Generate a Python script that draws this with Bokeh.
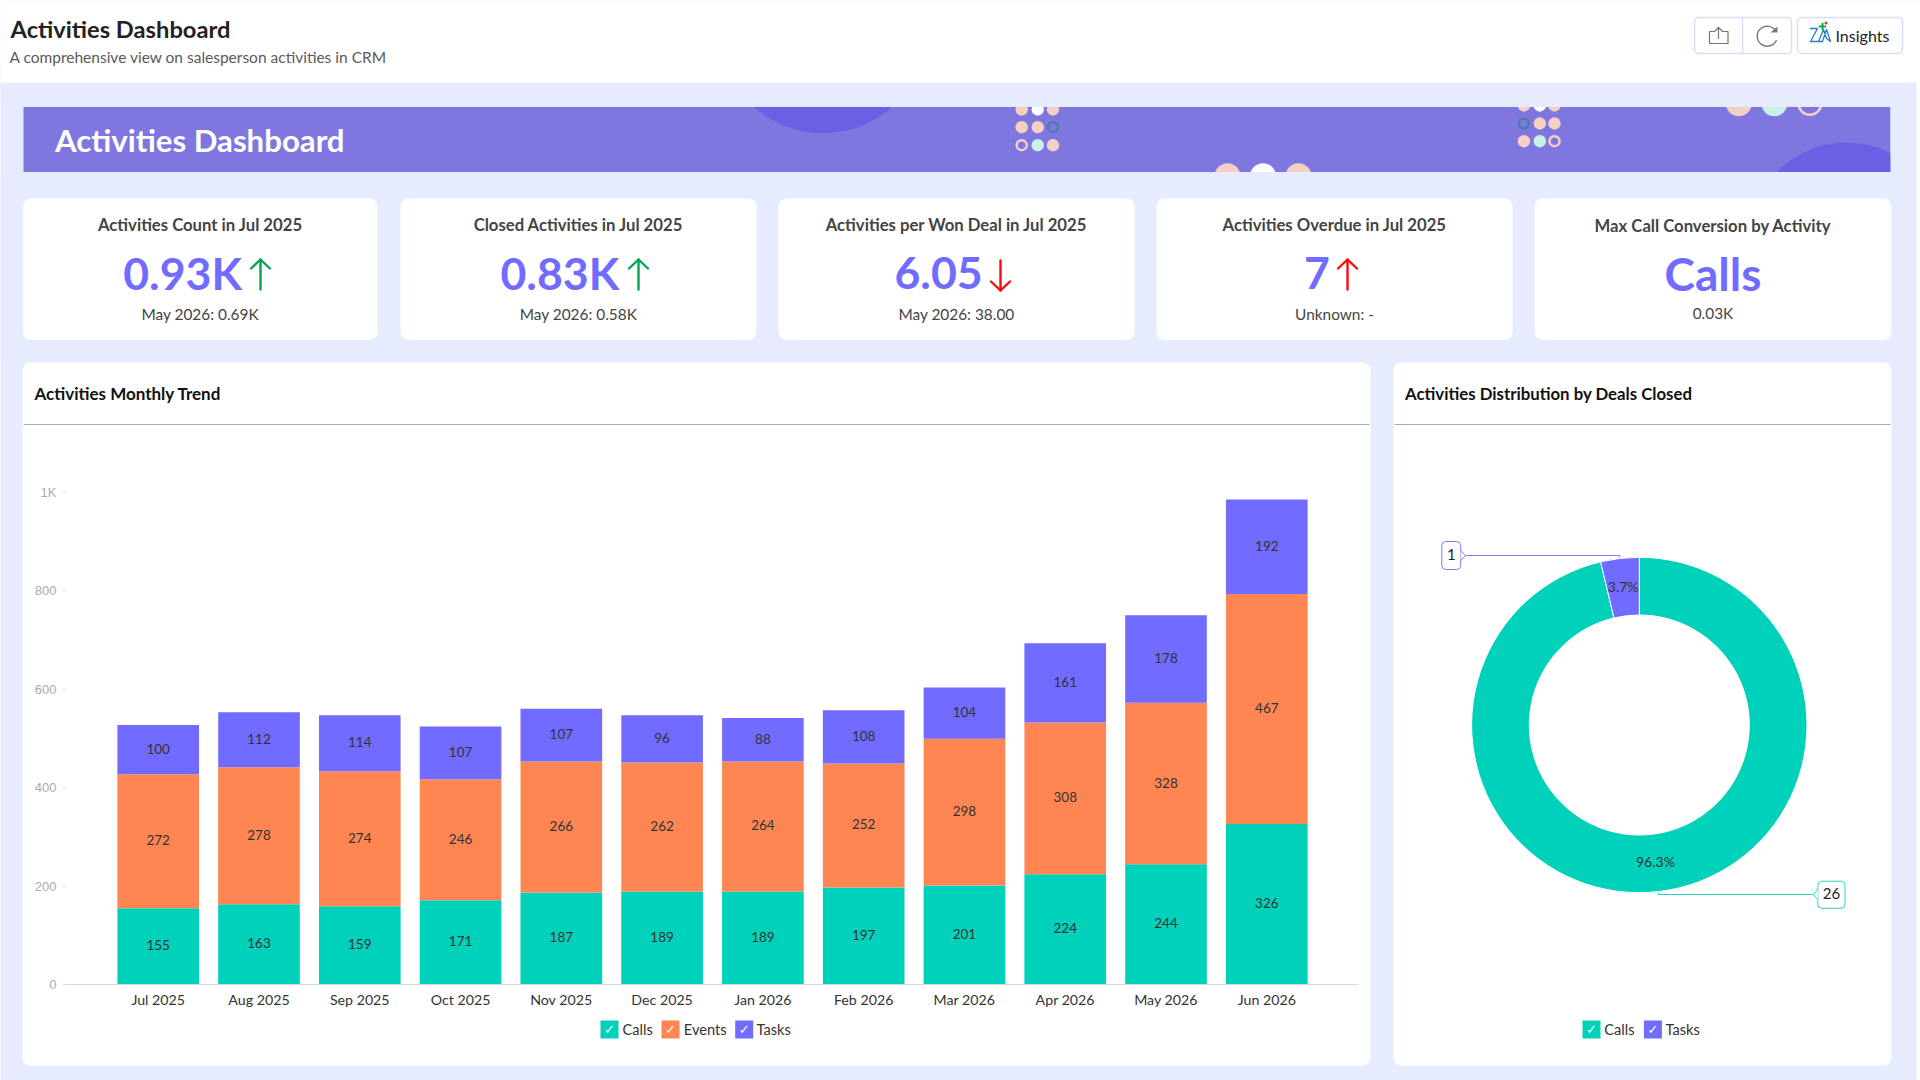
import math
import numpy as np
from bokeh.core.properties import value
from bokeh.embed import file_html
from bokeh.resources import INLINE
from bokeh.plotting import figure
from bokeh.layouts import column, row
from bokeh.models import ColumnDataSource, FactorRange, Range1d, FixedTicker

FONT = "Lato"
TEAL, ORANGE, PURPLE = "#00D1BA", "#FF8552", "#716BFF"
PAGE_BG = "#E6EBFE"

# ---------------- chart data ----------------
months = ["Jul 2025", "Aug 2025", "Sep 2025", "Oct 2025", "Nov 2025", "Dec 2025",
          "Jan 2026", "Feb 2026", "Mar 2026", "Apr 2026", "May 2026", "Jun 2026"]
calls = [155, 163, 159, 171, 187, 189, 189, 197, 201, 224, 244, 326]
events = [272, 278, 274, 246, 266, 262, 264, 252, 298, 308, 328, 467]
tasks = [100, 112, 114, 107, 107, 96, 88, 108, 104, 161, 178, 192]
y_ticks = [0, 200, 400, 600, 800, 1000]
y_tick_labels = {0: "0", 200: "200", 400: "400", 600: "600", 800: "800", 1000: "1K"}

donut_names = ["Calls", "Tasks"]
donut_values = [26, 1]

kpi_titles = ["Activities Count in Jul 2025", "Closed Activities in Jul 2025",
              "Activities per Won Deal in Jul 2025", "Activities Overdue in Jul 2025",
              "Max Call Conversion by Activity"]
kpi_values = ["0.93K", "0.83K", "6.05", "7", "Calls"]
kpi_subs = ["May 2026: 0.69K", "May 2026: 0.58K", "May 2026: 38.00", "Unknown: -", "0.03K"]

# ---------------- page chrome (pixel coordinates) ----------------
bg = figure(width=1920, height=1080, x_range=Range1d(0, 1920), y_range=Range1d(1080, 0),
            output_backend="svg", toolbar_location=None, min_border=0,
            outline_line_color=None, border_fill_color=PAGE_BG, background_fill_color=PAGE_BG)
bg.axis.visible = False
bg.grid.visible = False


def box(l, r, t, b, fill, radius=0, line=None, lw=1):
    bg.quad(left=l, right=r, top=t, bottom=b, fill_color=fill, line_color=line, line_width=lw,
            border_radius=radius)


def txt(x, y, s, size, color, style="normal", align="center", font=FONT):
    bg.text(x=[x], y=[y], text=[s], text_font=value(font), text_font_size=f"{size}px", text_color=color,
            text_font_style=style, text_align=align, text_baseline="middle")


def poly(xs, ys, color, lw=1.0):
    bg.line(xs, ys, line_color=color, line_width=lw, line_cap="round", line_join="round")


def legend_item(left, label_x, name, color):
    box(left, left + 18, 1020, 1038, color)
    txt(left + 9, 1029, "\u2713", 13, "white", font="DejaVu Sans")
    txt(label_x, 1028.5, name, 14.6, "#333333", align="left")


# banner
box(23, 1890, 106.5, 171.5, "#7F77E0")
DARK, PINK, MINT, RING = "#6B60E4", "#F5CFC2", "#C9F1E7", "#4C7BAA"
# the dark disc at the top only shows its lower part, so draw just that part
theta = np.linspace(0, np.pi, 121)
disc_x, disc_y = 822.6 + 104 * np.cos(theta), 28.7 + 104 * np.sin(theta)
keep = disc_y >= 100
bg.patch(disc_x[keep], disc_y[keep], fill_color=DARK, line_color=None)
bg.circle(x=[1846], y=[239], radius=[97], fill_color=DARK, line_color=None)
solid = [(1021.2, 109, PINK), (1037.2, 109, "white"), (1052.5, 109, PINK),
         (1021.2, 126.7, PINK), (1037.2, 126.7, PINK),
         (1037.2, 144.7, MINT), (1052.5, 144.7, PINK),
         (1523.4, 105, PINK), (1539.3, 105, "white"), (1554, 105, PINK),
         (1539.3, 123, PINK), (1554, 123, PINK),
         (1523.4, 140.7, PINK), (1539.3, 140.7, MINT)]
bg.circle(x=[c[0] for c in solid], y=[c[1] for c in solid], radius=6.2,
          fill_color=[c[2] for c in solid], line_color=None)
rings = [(1052.5, 126.7, RING), (1021.2, 144.7, PINK), (1523.4, 123, RING), (1554, 140.7, PINK)]
bg.circle(x=[c[0] for c in rings], y=[c[1] for c in rings], radius=5, fill_color=None,
          line_color=[c[2] for c in rings], line_width=2.5)
big = [(1227, 175.7, PINK), (1262.5, 175.7, "white"), (1298, 175.7, PINK),
       (1738.3, 102.7, PINK), (1773.8, 102.7, MINT)]
bg.circle(x=[c[0] for c in big], y=[c[1] for c in big], radius=13,
          fill_color=[c[2] for c in big], line_color=None)
bg.circle(x=[1809.4], y=[102.7], radius=11.5, fill_color=None, line_color=PINK, line_width=2.5)
box(0, 1920, 60, 106.5, PAGE_BG)
box(0, 1920, 171.5, 362, PAGE_BG)
box(1890, 1920, 100, 362, PAGE_BG)

# header
box(-5, 1925, -5, 82, "white")
box(1916, 1925, -5, 1085, "white")
txt(10, 28, "Activities Dashboard", 23.7, "#222222", "bold", "left")
txt(9, 56, "A comprehensive view on salesperson activities in CRM", 15.5, "#5a5a5a", "normal", "left")
txt(54.5, 139.5, "Activities Dashboard", 31.2, "white", "bold", "left")

# header buttons
BTN = "#D7DEF6"
box(1694, 1791, 17, 53, "white", 4, BTN, 1.5)
poly([1742, 1742], [17, 53], BTN, 1.5)
box(1797, 1902, 17, 53, "white", 4, BTN, 1.5)
ICON = "#777777"
poly([1713, 1709, 1709, 1727.5, 1727.5, 1723], [31, 31, 43, 43, 31, 31], ICON, 1.2)
poly([1718, 1718], [38, 27], ICON, 1.2)
poly([1714, 1718, 1722], [31, 27, 31], ICON, 1.2)
bg.arc(x=[1766.7], y=[35.7], radius=10, start_angle=0.5, end_angle=5.9, line_color=ICON, line_width=1.4)
bg.patch([1770, 1777, 1777], [32, 32, 26], fill_color=ICON, line_color=None)
ZIA = "#2B7CC6"
poly([1810, 1817, 1810, 1818], [28, 28, 41, 41], ZIA, 1.3)
poly([1818, 1823, 1826, 1830, 1826, 1822, 1818], [41, 29, 38, 41, 29, 41, 41], ZIA, 1.3)
poly([1822, 1822], [23, 29], "#12A84E", 2)
poly([1819, 1825], [26, 26], "#12A84E", 2)
bg.circle(x=[1825.5], y=[22.5], radius=1.6, fill_color="#E8382F", line_color=None)
txt(1835, 34.5, "Insights", 16, "#222222", "normal", "left")

# KPI cards
card_edges = [(22.5, 377), (400, 756), (778, 1134), (1156, 1512), (1534, 1891)]
value_left = [122.7, 500, 894, 1303.5, None]
arrows = [(260, "up", "#00A651"), (638, "up", "#00A651"), (1000, "down", "#FF0A0A"), (1347, "up", "#FF0A0A"), None]
for i, (l, r) in enumerate(card_edges):
    box(l, r, 198, 339.5, "white", 8)
    cx = (l + r) / 2
    if i < 4:
        txt(cx, 224, kpi_titles[i], 16.7, "#444444", "bold")
        txt(value_left[i], 272, kpi_values[i], 44.6, PURPLE, "bold", "left")
        txt(cx, 313.5, kpi_subs[i], 15.4, "#444444")
        ax, direction, col = arrows[i]
        if direction == "up":
            poly([ax, ax], [259, 289], col, 2.4)
            poly([ax - 9.5, ax, ax + 9.5], [268, 259, 268], col, 2.4)
        else:
            poly([ax, ax], [260, 290], col, 2.4)
            poly([ax - 9.5, ax, ax + 9.5], [281, 290, 281], col, 2.4)
    else:
        txt(cx, 225, kpi_titles[i], 16.7, "#444444", "bold")
        txt(cx, 273, kpi_values[i], 46, PURPLE, "bold")
        txt(cx, 312, kpi_subs[i], 15.4, "#444444")

# panels
box(22, 1370, 362, 1065, "white", 8)
box(1393, 1891, 362, 1065, "white", 8)
bg.segment(x0=[23, 1394], y0=[424, 424], x1=[1369, 1890], y1=[424, 424], line_color="#ABABAB", line_width=1.2)
txt(34, 393, "Activities Monthly Trend", 17, "#111111", "bold", "left")
txt(1404.5, 393, "Activities Distribution by Deals Closed", 16.8, "#111111", "bold", "left")

# ---------------- stacked bars ----------------
series = ["Calls", "Events", "Tasks"]
series_colors = [TEAL, ORANGE, PURPLE]
legend_item(600, 622, series[0], series_colors[0])
legend_item(661, 683.3, series[1], series_colors[1])
legend_item(734.7, 756, series[2], series_colors[2])

PANEL_TOP = 440
bar_left, bar_right, bar_bottom = 22, 1370, 1066
frame_left, frame_right, frame_top_px, frame_bottom_px = 66, 1358, 467, 984
y_end = 1050

source = ColumnDataSource(dict(month=months, Calls=calls, Events=events, Tasks=tasks))
bars = figure(width=bar_right - bar_left, height=bar_bottom - PANEL_TOP,
              x_range=FactorRange(factors=months, range_padding=0.41, range_padding_units="absolute"),
              y_range=Range1d(0, y_end),
              output_backend="svg", toolbar_location=None,
              frame_width=frame_right - frame_left, frame_height=frame_bottom_px - frame_top_px,
              min_border_left=frame_left - bar_left, min_border_right=bar_right - frame_right,
              min_border_bottom=bar_bottom - frame_bottom_px,
              min_border_top=frame_top_px - PANEL_TOP,
              outline_line_color=None, border_fill_color=None, background_fill_color=None,
              margin=(0, 0, 0, 0))
bars.grid.visible = False
bars.vbar_stack(series, x="month", width=0.81, color=series_colors, source=source, line_color=None)

stack_base = np.zeros(len(months))
for vals in (calls, events, tasks):
    arr = np.array(vals, dtype=float)
    bars.text(x=months, y=stack_base + arr / 2, text=[str(v) for v in vals], text_font=value(FONT),
              text_font_size="13.5px", text_color="#333333", text_align="center", text_baseline="middle",
              y_offset=-1)
    stack_base = stack_base + arr

xax, yax = bars.xaxis[0], bars.yaxis[0]
xax.axis_line_color = "#D9D9D9"
xax.major_tick_line_color = None
xax.major_tick_in = 0
xax.major_tick_out = 0
xax.minor_tick_line_color = None
xax.major_label_text_font = FONT
xax.major_label_text_font_size = "14.2px"
xax.major_label_text_color = "#333333"
xax.major_label_standoff = 6
yax.axis_line_color = None
yax.minor_tick_line_color = None
yax.major_tick_line_color = "#E2E2E2"
yax.major_tick_in = 0
yax.major_tick_out = 4
yax.ticker = FixedTicker(ticks=y_ticks)
yax.major_label_overrides = y_tick_labels
yax.major_label_text_font = "Liberation Sans"
yax.major_label_text_font_size = "13px"
yax.major_label_text_color = "#ABABAB"
yax.major_label_standoff = 6

# ---------------- donut ----------------
donut_colors = [TEAL, PURPLE]
legend_item(1582, 1603.8, donut_names[0], donut_colors[0])
legend_item(1643.4, 1665, donut_names[1], donut_colors[1])

don_left, don_right = 1393, 1891
cx_px, cy_px, outer_px, inner_px = 1638.8, 724.5, 167.7, 110


def dx(px):
    return (px - cx_px) / outer_px


def dy(py):
    return (cy_px - py) / outer_px


# Row aligns sibling frames, so the donut shares the bar chart's frame height.
donut = figure(width=don_right - don_left, height=bar_bottom - PANEL_TOP,
               x_range=Range1d(dx(don_left), dx(don_right)),
               y_range=Range1d(dy(frame_bottom_px), dy(frame_top_px)),
               output_backend="svg", toolbar_location=None,
               frame_width=don_right - don_left, frame_height=frame_bottom_px - frame_top_px,
               min_border_left=0, min_border_right=0,
               min_border_top=frame_top_px - PANEL_TOP, min_border_bottom=bar_bottom - frame_bottom_px,
               outline_line_color=None, border_fill_color=None, background_fill_color=None,
               margin=(0, 0, 0, don_left - bar_right))
donut.axis.visible = False
donut.grid.visible = False

total = sum(donut_values)
mid_r = (1 + inner_px / outer_px) / 2
angle = math.pi / 2
for name, val, col in zip(donut_names, donut_values, donut_colors):
    sweep = 2 * math.pi * val / total
    donut.annular_wedge(x=0, y=0, inner_radius=inner_px / outer_px, outer_radius=1,
                        start_angle=angle, end_angle=angle - sweep, direction="clock",
                        fill_color=col, line_color="white", line_width=1)
    mid = angle - sweep / 2
    donut.text(x=[mid_r * math.cos(mid)], y=[mid_r * math.sin(mid)], text=[f"{val / total * 100:.1f}%"],
               text_font=value(FONT), text_font_size="14px", text_color="#333333",
               text_align="center", text_baseline="middle", y_offset=-1)
    angle -= sweep


def dpoly(xs, ys, col):
    donut.line([dx(v) for v in xs], [dy(v) for v in ys], line_color=col, line_width=1)


def callout(l, r, t, b, col, label):
    donut.quad(left=dx(l), right=dx(r), top=dy(t), bottom=dy(b), fill_color="white", line_color=col,
               line_width=1, border_radius=4)
    donut.text(x=[dx((l + r) / 2)], y=[dy((t + b) / 2)], text=[label], text_font=value(FONT),
               text_font_size="15px", text_color="#222222", text_align="center", text_baseline="middle",
               y_offset=-1)


def chevron(base_x, tip_x, y, col):
    donut.patch([dx(base_x), dx(tip_x), dx(base_x)], [dy(y - 5), dy(y), dy(y + 5)],
                fill_color="white", line_color=None)
    dpoly([base_x, tip_x, base_x], [y - 5, y, y + 5], col)


LEAD1, LEAD2 = "#7F79FF", "#2AD6C3"
callout(1441.3, 1460.2, 541, 569, LEAD1, str(donut_values[1]))
dpoly([1619.3, 1619.3, 1465], [557, 555, 555], LEAD1)
chevron(1460.2, 1465, 555, LEAD1)
callout(1817.3, 1844.5, 880.7, 907.8, LEAD2, str(donut_values[0]))
dpoly([1658, 1658, 1813], [892, 894, 894], LEAD2)
chevron(1817.3, 1813, 894, LEAD2)

charts = row(bars, donut, margin=(PANEL_TOP - 1080, 0, 0, bar_left))
page = column(bg, charts)

open("out.html", "w").write(file_html(page, INLINE))
